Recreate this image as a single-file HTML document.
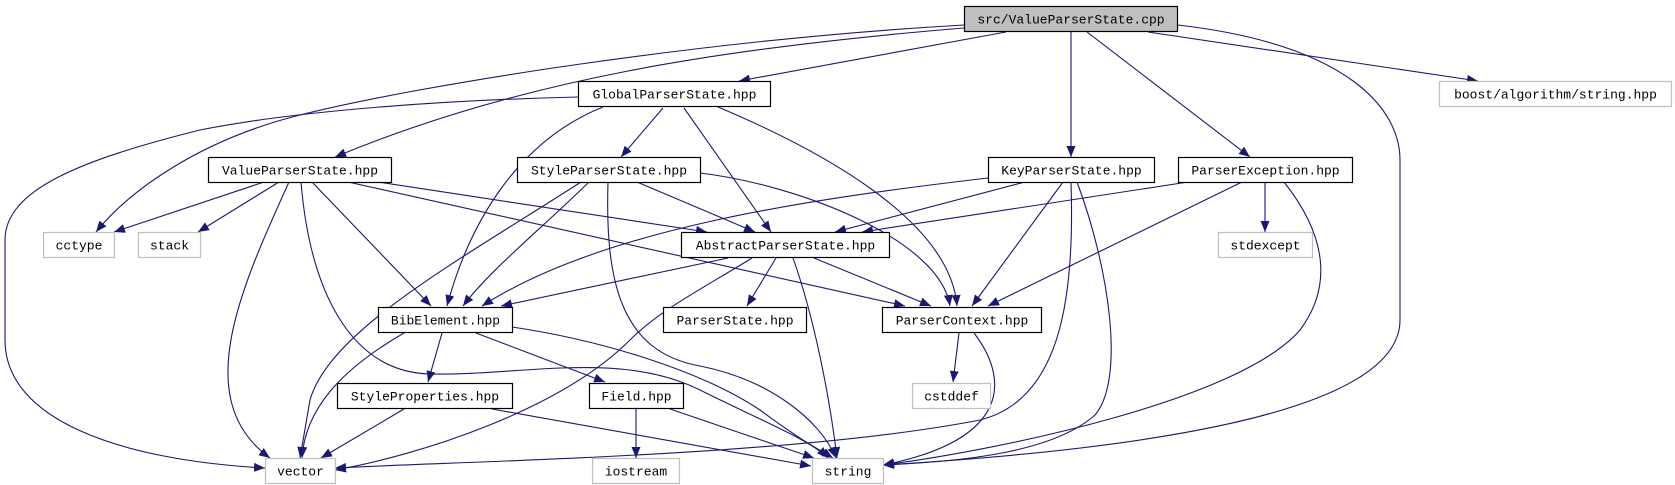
<!DOCTYPE html>
<html><head><meta charset="utf-8"><style>
html,body{margin:0;padding:0;background:#fff;}
svg{display:block;}
text{font-family:"Liberation Mono",monospace;font-size:13px;fill:#000;}
</style></head><body>
<svg width="1675" height="485" viewBox="0 0 1675 485" xmlns="http://www.w3.org/2000/svg">
<defs>
<marker id="a" markerUnits="userSpaceOnUse" markerWidth="12" markerHeight="9" refX="11" refY="4.5" orient="auto">
<path d="M0,0 L11,4.5 L0,9 z" fill="#191970"/>
</marker>
</defs>
<g fill="none" stroke="#191970" stroke-width="1.1" marker-end="url(#a)">
<path d="M1006,32 L739,81"/>
<path d="M964,28 C720,48 520,80 335,157"/>
<path d="M964,25 C700,40 420,85 300,115 C200,140 130,190 96,232"/>
<path d="M1071,32 L1071,157"/>
<path d="M1087,32 L1250,157"/>
<path d="M1148,32 L1478,81"/>
<path d="M1178,25 C1350,45 1400,110 1400,160 L1400,320 C1400,420 1100,452 883,465"/>
<path d="M578,97 C450,100 300,110 200,130 C80,160 5,190 5,240 L5,340 C5,420 120,460 265,468"/>
<path d="M603,107 C520,140 470,220 447,306"/>
<path d="M663,108 L621,157"/>
<path d="M684,108 L771,232"/>
<path d="M718,107 C820,150 950,220 957,306"/>
<path d="M264,182 L114,232"/>
<path d="M279,182 L198,232"/>
<path d="M289,182 C240,290 190,400 270,458"/>
<path d="M301,182 C310,290 350,372 430,374 C520,376 620,350 700,390 C760,420 810,440 828,458"/>
<path d="M312,182 L431,306"/>
<path d="M378,182 L707,232"/>
<path d="M348,182 L905,306"/>
<path d="M581,182 C460,260 330,330 310,400 L300,458"/>
<path d="M589,182 C540,230 490,270 463,306"/>
<path d="M608,182 C605,280 620,352 700,366 C770,380 820,420 836,458"/>
<path d="M637,182 L755,232"/>
<path d="M700,173 C800,185 940,240 950,306"/>
<path d="M988,178 C800,200 600,230 482,306"/>
<path d="M1025,182 L835,232"/>
<path d="M1063,182 L972,306"/>
<path d="M1071,182 C1075,300 1060,400 980,420 C800,455 500,460 335,468"/>
<path d="M1077,182 C1110,270 1125,380 1095,415 C1050,455 950,462 883,465"/>
<path d="M1188,182 L862,232"/>
<path d="M1242,182 L988,306"/>
<path d="M1265,182 L1265,232"/>
<path d="M1284,182 C1330,240 1330,290 1300,330 C1240,400 1000,450 883,465"/>
<path d="M728,258 L501,306"/>
<path d="M752,258 C700,290 660,310 630,340 C560,410 420,455 335,470"/>
<path d="M776,258 L747,306"/>
<path d="M793,258 C815,320 830,400 837,458"/>
<path d="M814,258 L931,306"/>
<path d="M404,333 C340,370 305,410 302,458"/>
<path d="M442,333 L428,382"/>
<path d="M476,333 L605,382"/>
<path d="M512,327 C600,340 700,370 760,410 C800,440 820,450 833,458"/>
<path d="M404,409 L321,458"/>
<path d="M492,409 L811,466"/>
<path d="M636,409 L636,458"/>
<path d="M670,409 L814,458"/>
<path d="M959,333 L953,382"/>
<path d="M974,333 C1010,380 1010,440 883,465"/>
</g>
<g stroke-width="1.2">
<rect x="964.5" y="6.5" width="213" height="25" fill="#bfbfbf" stroke="#000"/>
<rect x="578.5" y="81.5" width="192" height="25" fill="#fff" stroke="#000"/>
<rect x="1439.5" y="81.5" width="232" height="25" fill="#fff" stroke="#bfbfbf"/>
<rect x="208.5" y="157.5" width="183" height="25" fill="#fff" stroke="#000"/>
<rect x="517.5" y="157.5" width="183" height="25" fill="#fff" stroke="#000"/>
<rect x="988.5" y="157.5" width="166" height="25" fill="#fff" stroke="#000"/>
<rect x="1178.5" y="157.5" width="174" height="25" fill="#fff" stroke="#000"/>
<rect x="43.5" y="232.5" width="71" height="25" fill="#fff" stroke="#bfbfbf"/>
<rect x="138.5" y="232.5" width="62" height="25" fill="#fff" stroke="#bfbfbf"/>
<rect x="681.5" y="232.5" width="208" height="25" fill="#fff" stroke="#000"/>
<rect x="1218.5" y="232.5" width="94" height="25" fill="#fff" stroke="#bfbfbf"/>
<rect x="378.5" y="307.5" width="134" height="25" fill="#fff" stroke="#000"/>
<rect x="663.5" y="307.5" width="143" height="25" fill="#fff" stroke="#000"/>
<rect x="882.5" y="307.5" width="159" height="25" fill="#fff" stroke="#000"/>
<rect x="337.5" y="383.5" width="175" height="25" fill="#fff" stroke="#000"/>
<rect x="589.5" y="383.5" width="94" height="25" fill="#fff" stroke="#000"/>
<rect x="912.5" y="383.5" width="78" height="25" fill="#fff" stroke="#bfbfbf"/>
<rect x="265.5" y="458.5" width="70" height="25" fill="#fff" stroke="#bfbfbf"/>
<rect x="592.5" y="458.5" width="87" height="25" fill="#fff" stroke="#bfbfbf"/>
<rect x="812.5" y="458.5" width="71" height="25" fill="#fff" stroke="#bfbfbf"/>
</g>
<g text-anchor="middle">
<text x="1071" y="23.5">src/ValueParserState.cpp</text>
<text x="674.5" y="98.5">GlobalParserState.hpp</text>
<text x="1555.5" y="98.5">boost/algorithm/string.hpp</text>
<text x="300" y="174.5">ValueParserState.hpp</text>
<text x="609" y="174.5">StyleParserState.hpp</text>
<text x="1071.5" y="174.5">KeyParserState.hpp</text>
<text x="1265.5" y="174.5">ParserException.hpp</text>
<text x="79" y="249.5">cctype</text>
<text x="169.5" y="249.5">stack</text>
<text x="785.5" y="249.5">AbstractParserState.hpp</text>
<text x="1265.5" y="249.5">stdexcept</text>
<text x="445.5" y="324.5">BibElement.hpp</text>
<text x="735" y="324.5">ParserState.hpp</text>
<text x="962" y="324.5">ParserContext.hpp</text>
<text x="425" y="400.5">StyleProperties.hpp</text>
<text x="636.5" y="400.5">Field.hpp</text>
<text x="951.5" y="400.5">cstddef</text>
<text x="300.5" y="475.5">vector</text>
<text x="636" y="475.5">iostream</text>
<text x="848" y="475.5">string</text>
</g>
</svg>
</body></html>
